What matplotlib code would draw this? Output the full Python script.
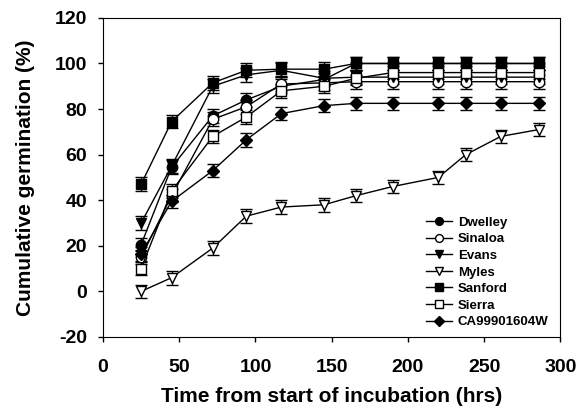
import matplotlib
matplotlib.use("Agg")
import matplotlib.pyplot as plt

plt.rcParams['font.family'] = ['Liberation Sans', 'DejaVu Sans']
plt.rcParams['font.weight'] = 'bold'
plt.rcParams['axes.unicode_minus'] = False

time = [25, 45, 72, 94, 117, 145, 166, 190, 220, 238, 261, 286]

dwelley = [20.5, 54.5, 77, 84, 90, 93, 100, 100, 100, 100, 100, 100]
sinaloa = [15, 42, 75.5, 81, 91, 91.5, 92, 92, 92, 92, 92, 92]
evans = [30, 55, 90, 95, 97, 93.5, 94, 94, 94, 94, 94, 94]
myles = [0, 6, 19, 33, 37, 38, 42, 46, 50, 60, 68, 71]
sanford = [47, 74.5, 91.5, 97, 97.5, 97.5, 100, 100, 100, 100, 100, 100]
sierra = [10, 44, 68, 76.5, 88, 90, 93.5, 96, 96, 96, 96, 96]
ca = [16.5, 39.5, 53, 66.5, 78, 81.5, 82.5, 82.5, 82.5, 82.5, 82.5, 82.5]

err = [3, 3, 3, 3, 3, 3, 3, 3, 3, 3, 3, 3]

series = [
    ("Dwelley", dwelley, 'o', 'black'),
    ("Sinaloa", sinaloa, 'o', 'white'),
    ("Evans", evans, 'v', 'black'),
    ("Myles", myles, 'v', 'white'),
    ("Sanford", sanford, 's', 'black'),
    ("Sierra", sierra, 's', 'white'),
    ("CA99901604W", ca, 'D', 'black'),
]

fig = plt.figure(figsize=(5.87, 4.16), dpi=100)
ax = fig.add_axes([0.1755, 0.19, 0.779, 0.767])

for name, vals, m, fc in series:
    ms = 7.5 if m != 'D' else 6.5
    ax.errorbar(time, vals, yerr=err, marker=m, markersize=ms, markerfacecolor=fc,
                markeredgecolor='black', markeredgewidth=1, color='black', linewidth=1,
                ecolor='black', elinewidth=1, capsize=4, capthick=1, label=name)

ax.set_xlim(0, 300)
ax.set_ylim(-20, 120)
ax.set_xticks([0, 50, 100, 150, 200, 250, 300])
ax.set_yticks([-20, 0, 20, 40, 60, 80, 100, 120])
ax.tick_params(direction='out', length=3.6, labelsize=14, width=1)
ax.tick_params(axis='x', pad=12)
ax.tick_params(axis='y', pad=8)
for lab in ax.get_xticklabels() + ax.get_yticklabels():
    lab.set_fontweight('bold')
ax.set_xlabel("Time from start of incubation (hrs)", fontsize=15, fontweight='bold', labelpad=8)
ax.set_ylabel("Cumulative germination (%)", fontsize=15, fontweight='bold', labelpad=14)

handles, labels = ax.get_legend_handles_labels()
handles = [h[0] for h in handles]
leg = ax.legend(handles, labels, loc='lower right', bbox_to_anchor=(1.0, -0.01), frameon=False,
                prop={'weight': 'bold', 'size': 9.5}, handlelength=2.0, handletextpad=0.4,
                labelspacing=0.33, markerscale=0.75)

fig.savefig("out.png", dpi=100)
